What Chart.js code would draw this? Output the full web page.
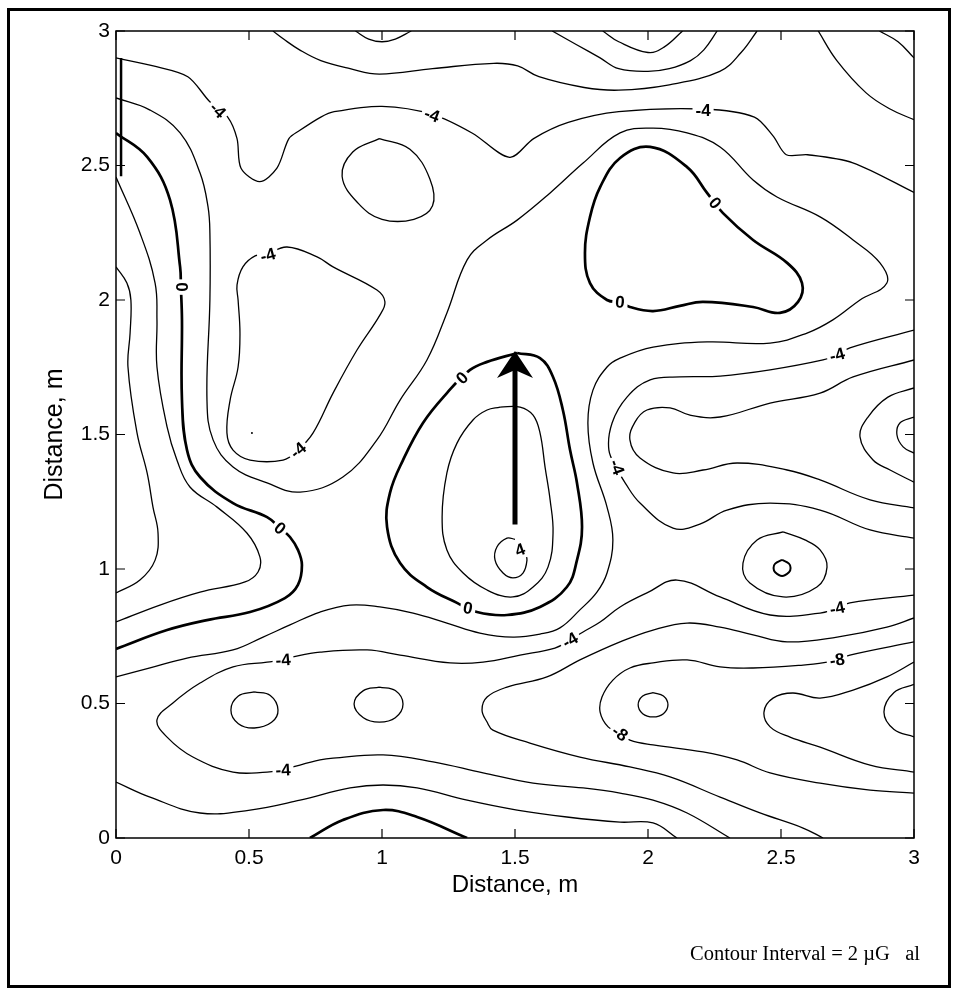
<!DOCTYPE html>
<html>
<head>
<meta charset="utf-8">
<script src="https://cdn.jsdelivr.net/npm/chart.js@4.4.1/dist/chart.umd.min.js"></script>
<style>
  html, body { margin: 0; padding: 0; background: #fff; }
  #wrap { position: relative; width: 956px; height: 993px; }
  #note {
    position: absolute; left: 690px; top: 941px;
    font: 20.5px 'Liberation Serif', 'Times New Roman', serif;
    white-space: pre; color: #000; line-height: 24px;
  }
</style>
</head>
<body>
<div id="wrap">
  <canvas id="contourChart" width="956" height="993"></canvas>
  <div id="note">Contour Interval = 2 µG   al</div>
</div>
<script>
// tick values (both axes)
const tickValues = [0, 0.5, 1, 1.5, 2, 2.5, 3];

// contour lines, [x, y] in metres
const topArcA = [[0.59,3.0],[0.63,2.97],[0.69,2.93],[0.77,2.89],[0.88,2.86],[0.99,2.84],[1.19,2.86],[1.42,2.88],[1.51,2.87],[1.59,2.83],[1.76,2.79],[1.89,2.78],[2.08,2.80],[2.27,2.85],[2.35,2.92],[2.41,3.0]];
const topArcB = [[0.90,3.0],[0.95,2.97],[1.0,2.96],[1.05,2.97],[1.11,3.0]];
const topArcC = [[1.83,3.0],[1.89,2.96],[2.0,2.92],[2.06,2.94],[2.13,3.0]];
const topArcD = [[1.64,3.0],[1.73,2.95],[1.82,2.90],[1.89,2.86],[2.0,2.85],[2.08,2.86],[2.16,2.89],[2.21,2.93],[2.26,3.0]];
const topRight1 = [[2.64,3.0],[2.71,2.89],[2.82,2.77],[2.91,2.71],[3.0,2.67]];
const topRight2 = [[2.87,3.0],[2.94,2.96],[3.0,2.90]];

const minus4Top = [[0,2.90],[0.14,2.87],[0.27,2.83],[0.35,2.74],[0.42,2.68],[0.455,2.60],[0.47,2.49],[0.54,2.44],[0.605,2.49],[0.65,2.60],[0.69,2.63],[0.77,2.68],[0.82,2.70],[1.00,2.72],[1.19,2.69],[1.34,2.62],[1.48,2.53],[1.57,2.60],[1.70,2.66],[1.89,2.70],[2.21,2.71],[2.40,2.68],[2.47,2.61],[2.52,2.54],[2.60,2.54],[2.77,2.51],[3.0,2.40]];
const loopNearOne = [[0.99,2.60],[1.105,2.56],[1.18,2.45],[1.19,2.35],[1.12,2.30],[1.00,2.30],[0.91,2.36],[0.85,2.46],[0.89,2.55],[0.99,2.60]];

const minus2Long = [[0,2.751],[0.128,2.706],[0.241,2.621],[0.316,2.472],[0.346,2.346],[0.353,2.249],[0.353,2.0],[0.342,1.628],[0.365,1.48],[0.44,1.379],[0.568,1.32],[0.692,1.286],[0.853,1.342],[0.981,1.48],[1.068,1.628],[1.169,1.777],[1.244,1.952],[1.32,2.149],[1.395,2.223],[1.508,2.297],[1.632,2.398],[1.756,2.509],[1.895,2.621],[2.019,2.639],[2.147,2.621],[2.271,2.569],[2.395,2.446],[2.485,2.383],[2.647,2.309],[2.771,2.223],[2.872,2.138],[2.898,2.063],[2.797,2.0],[2.695,1.926],[2.598,1.877],[2.459,1.84],[2.222,1.844],[2.019,1.825],[1.895,1.784],[1.846,1.751],[1.793,1.665],[1.774,1.543],[1.793,1.394],[1.846,1.23],[1.868,1.108],[1.846,0.985],[1.808,0.914],[1.744,0.848],[1.669,0.781],[1.594,0.758],[1.492,0.747],[1.368,0.762],[1.244,0.799],[1.117,0.836],[0.992,0.859],[0.88,0.866],[0.767,0.84],[0.654,0.792],[0.553,0.747],[0.44,0.699],[0.267,0.669],[0.128,0.632],[0,0.599]];

const zeroLeft = [[0,2.621],[0.117,2.532],[0.203,2.372],[0.241,2.123],[0.244,2.048],[0.248,1.926],[0.248,1.628],[0.267,1.442],[0.316,1.342],[0.44,1.245],[0.568,1.193],[0.617,1.152],[0.654,1.119],[0.684,1.071],[0.699,1.015],[0.684,0.941],[0.635,0.892],[0.504,0.84],[0.342,0.81],[0.192,0.773],[0,0.703]];
const plus4Left = [[0,2.123],[0.041,2.063],[0.056,2.0],[0.053,1.877],[0.045,1.751],[0.079,1.506],[0.117,1.357],[0.139,1.23],[0.158,1.134],[0.147,1.033],[0.09,0.959],[0,0.911]];
const plus2Left = [[0,2.457],[0.09,2.249],[0.147,2.063],[0.154,1.926],[0.154,1.751],[0.192,1.528],[0.229,1.405],[0.278,1.305],[0.38,1.23],[0.492,1.134],[0.541,1.045],[0.534,0.989],[0.485,0.952],[0.316,0.914],[0.165,0.866],[0,0.803]];
const minus4Loop = [[0.57,2.17],[0.643,2.197],[0.756,2.16],[0.816,2.123],[0.981,2.037],[1.011,1.993],[0.992,1.944],[0.906,1.814],[0.816,1.654],[0.741,1.506],[0.684,1.442],[0.628,1.405],[0.504,1.405],[0.44,1.442],[0.417,1.506],[0.429,1.628],[0.459,1.751],[0.466,1.877],[0.459,2.0],[0.455,2.056],[0.477,2.123],[0.523,2.164],[0.57,2.17]];

const zeroCentre = [[1.508,1.803],[1.594,1.784],[1.643,1.714],[1.68,1.591],[1.707,1.442],[1.733,1.32],[1.752,1.156],[1.733,1.033],[1.695,0.933],[1.594,0.859],[1.47,0.829],[1.357,0.84],[1.282,0.874],[1.169,0.933],[1.068,1.022],[1.019,1.156],[1.03,1.283],[1.079,1.405],[1.154,1.543],[1.244,1.654],[1.331,1.74],[1.395,1.77],[1.508,1.803]];
const plus2Centre = [[1.444,1.602],[1.519,1.602],[1.568,1.572],[1.594,1.506],[1.613,1.379],[1.632,1.257],[1.643,1.134],[1.624,1.007],[1.568,0.933],[1.492,0.896],[1.395,0.922],[1.305,0.985],[1.244,1.071],[1.226,1.193],[1.244,1.357],[1.282,1.468],[1.342,1.554],[1.395,1.591],[1.444,1.602]];
const plus4Centre = [[1.5,1.11],[1.47,1.115],[1.432,1.082],[1.425,1.033],[1.455,0.985],[1.492,0.967],[1.53,0.985],[1.545,1.033],[1.538,1.06]];

const zeroUpperRight = [[1.895,1.993],[1.932,1.974],[2.019,1.959],[2.12,1.978],[2.207,1.993],[2.395,1.974],[2.496,1.952],[2.564,1.993],[2.579,2.063],[2.523,2.138],[2.395,2.223],[2.282,2.323],[2.222,2.398],[2.147,2.494],[2.008,2.569],[1.895,2.528],[1.82,2.42],[1.782,2.309],[1.763,2.175],[1.782,2.063],[1.846,2.0],[1.895,1.993]];
const minus4Right = [[3.0,1.888],[2.759,1.822],[2.711,1.796],[2.658,1.777],[2.459,1.74],[2.271,1.717],[2.12,1.714],[2.008,1.703],[1.921,1.639],[1.865,1.543],[1.853,1.442],[1.887,1.368],[1.914,1.32],[1.97,1.245],[2.094,1.152],[2.195,1.167],[2.297,1.219],[2.459,1.245],[2.647,1.219],[2.835,1.145],[3.0,1.115]];
const minus6Right = [[3.0,1.777],[2.771,1.714],[2.647,1.654],[2.459,1.617],[2.271,1.565],[2.158,1.572],[2.083,1.599],[1.996,1.591],[1.951,1.546],[1.932,1.48],[1.97,1.413],[2.094,1.357],[2.207,1.368],[2.335,1.394],[2.523,1.368],[2.647,1.331],[2.835,1.257],[3.0,1.227]];
const edgeLoop15 = [[3.0,1.673],[2.902,1.639],[2.827,1.565],[2.797,1.491],[2.846,1.405],[2.91,1.368],[3.0,1.323]];
const edgeSmall15 = [[3.0,1.565],[2.947,1.543],[2.936,1.498],[2.959,1.454],[3.0,1.431]];
const ring25 = [[2.508,1.138],[2.59,1.108],[2.647,1.071],[2.673,1.007],[2.635,0.933],[2.508,0.896],[2.383,0.948],[2.357,1.022],[2.41,1.108],[2.508,1.138]];
const dot25 = [[2.504,1.034],[2.53,1.02],[2.536,1.004],[2.53,0.988],[2.504,0.974],[2.478,0.988],[2.472,1.004],[2.478,1.02],[2.504,1.034]];

const minus4Long = [[3.0,0.903],[2.759,0.874],[2.711,0.855],[2.647,0.836],[2.459,0.829],[2.271,0.896],[2.109,0.959],[1.996,0.911],[1.895,0.859],[1.82,0.803],[1.756,0.766],[1.707,0.736],[1.65,0.706],[1.519,0.68],[1.38,0.654],[1.256,0.651],[1.068,0.68],[0.944,0.699],[0.767,0.691],[0.665,0.673],[0.628,0.662],[0.568,0.654],[0.44,0.636],[0.316,0.576],[0.214,0.502],[0.154,0.439],[0.192,0.375],[0.289,0.301],[0.44,0.245],[0.568,0.245],[0.628,0.253],[0.665,0.264],[0.767,0.29],[0.816,0.297],[1.004,0.309],[1.192,0.283],[1.38,0.242],[1.568,0.204],[1.756,0.186],[1.895,0.167],[2.019,0.141],[2.147,0.093],[2.308,0]];
const ring05 = [[0.52,0.543],[0.58,0.53],[0.609,0.476],[0.585,0.43],[0.52,0.409],[0.46,0.425],[0.432,0.476],[0.46,0.528],[0.52,0.543]];
const ring10 = [[0.99,0.561],[1.05,0.548],[1.079,0.498],[1.05,0.447],[0.99,0.431],[0.93,0.447],[0.895,0.498],[0.93,0.548],[0.99,0.561]];
const ring20 = [[2.019,0.54],[2.058,0.528],[2.075,0.495],[2.058,0.462],[2.019,0.45],[1.98,0.462],[1.963,0.495],[1.98,0.528],[2.019,0.54]];

const minus8 = [[3.0,0.729],[2.759,0.68],[2.711,0.662],[2.673,0.654],[2.583,0.643],[2.395,0.632],[2.271,0.636],[2.147,0.662],[2.019,0.651],[1.932,0.632],[1.868,0.587],[1.827,0.524],[1.82,0.468],[1.85,0.413],[1.895,0.39],[1.932,0.364],[2.019,0.346],[2.207,0.32],[2.335,0.29],[2.459,0.242],[2.647,0.204],[2.835,0.178],[3.0,0.167]];
const minus6 = [[3.0,0.818],[2.898,0.784],[2.711,0.747],[2.523,0.729],[2.395,0.755],[2.271,0.784],[2.147,0.799],[2.019,0.773],[1.895,0.729],[1.744,0.662],[1.62,0.599],[1.47,0.561],[1.395,0.524],[1.376,0.476],[1.395,0.431],[1.417,0.401],[1.556,0.353],[1.744,0.301],[1.932,0.264],[2.083,0.227],[2.271,0.152],[2.421,0.093],[2.583,0.037],[2.658,0]];
const minus10 = [[3.0,0.654],[2.898,0.599],[2.771,0.55],[2.647,0.52],[2.545,0.539],[2.47,0.52],[2.436,0.468],[2.459,0.413],[2.534,0.375],[2.647,0.338],[2.835,0.271],[3.0,0.245]];
const edgeSmall05 = [[3.0,0.571],[2.925,0.541],[2.887,0.468],[2.925,0.403],[3.0,0.376]];
const minus2Bottom = [[0,0.208],[0.128,0.152],[0.316,0.093],[0.504,0.104],[0.692,0.141],[0.88,0.186],[1.004,0.197],[1.132,0.186],[1.32,0.141],[1.508,0.104],[1.695,0.078],[1.895,0.059],[2.019,0.056],[2.109,0]];
const zeroBottom = [[0.729,0],[0.853,0.067],[1.004,0.104],[1.132,0.078],[1.32,0]];

const edgeStroke = [[0.019,2.90],[0.019,2.46]];
const strayDot = [[0.511,1.506]];

// arrow (x, tail y, tip y)
const arrowX = 1.5, arrowTailY = 1.165, arrowTipY = 1.81;

// contour labels
const labelText = ['-4','-4','-4','0','-4','-4','0','0','0','-4','0','0','-4','-4','-4','-4','-4','-8','-8','4'];
const labelX = [0.383,1.188,2.207,0.248,0.571,0.684,0.617,1.301,1.323,1.883,1.895,2.252,2.711,0.628,0.628,1.707,2.711,2.711,1.895,1.519];
const labelY = [2.706,2.688,2.706,2.048,2.167,1.442,1.152,1.71,0.855,1.379,1.993,2.361,1.796,0.662,0.253,0.736,0.855,0.662,0.39,1.071];
const labelAngle = [45,20,0,90,-15,-40,40,-45,10,70,5,50,-15,-5,-3,-30,-12,-10,35,-20];

const FONT = "'Liberation Sans', Arial, sans-serif";

function contour(points, width, tension) {
  return {
    data: points.map(p => ({ x: p[0], y: p[1] })),
    showLine: true,
    borderColor: '#000',
    borderWidth: width,
    pointRadius: 0,
    tension: tension === undefined ? 0.4 : tension,
    fill: false
  };
}

const thin = 1.3, thick = 2.7;
const datasets = [
  contour(topArcA, thin), contour(topArcB, thin), contour(topArcC, thin), contour(topArcD, thin),
  contour(topRight1, thin), contour(topRight2, thin),
  contour(minus4Top, thin, 0.3), contour(loopNearOne, thin),
  contour(minus2Long, thin), contour(zeroLeft, thick), contour(plus4Left, thin), contour(plus2Left, thin),
  contour(minus4Loop, thin),
  contour(zeroCentre, thick), contour(plus2Centre, thin), contour(plus4Centre, thin),
  contour(zeroUpperRight, thick), contour(minus4Right, thin), contour(minus6Right, thin),
  contour(edgeLoop15, thin), contour(edgeSmall15, thin), contour(ring25, thin), contour(dot25, 2),
  contour(minus4Long, thin), contour(ring05, thin), contour(ring10, thin), contour(ring20, thin),
  contour(minus8, thin), contour(minus6, thin), contour(minus10, thin), contour(edgeSmall05, thin),
  contour(minus2Bottom, thin), contour(zeroBottom, thick),
  contour(edgeStroke, 2.5, 0),
  { data: strayDot.map(p => ({ x: p[0], y: p[1] })), pointRadius: 1, backgroundColor: '#000', borderWidth: 0 },
  contour([[arrowX, arrowTailY], [arrowX, arrowTipY - 0.07]], 5, 0)
];

// labels, arrow head, frame with inward ticks, outer border
const decorations = {
  id: 'decorations',
  afterDatasetsDraw(chart) {
    const ctx = chart.ctx, xs = chart.scales.x, ys = chart.scales.y;
    const area = chart.chartArea;

    ctx.save();
    ctx.font = 'bold 17px ' + FONT;
    ctx.textAlign = 'center';
    ctx.textBaseline = 'middle';
    labelText.forEach((t, i) => {
      const px = xs.getPixelForValue(labelX[i]);
      const py = ys.getPixelForValue(labelY[i]);
      ctx.save();
      ctx.translate(px, py);
      ctx.rotate(labelAngle[i] * Math.PI / 180);
      const w = ctx.measureText(t).width + 6;
      ctx.fillStyle = '#fff';
      ctx.fillRect(-w / 2, -9, w, 18);
      ctx.fillStyle = '#000';
      ctx.fillText(t, 0, 1);
      ctx.restore();
    });

    // arrow head
    const ax = xs.getPixelForValue(arrowX), ay = ys.getPixelForValue(arrowTipY);
    ctx.fillStyle = '#000';
    ctx.beginPath();
    ctx.moveTo(ax, ay);
    ctx.lineTo(ax + 18, ay + 27);
    ctx.lineTo(ax, ay + 19);
    ctx.lineTo(ax - 18, ay + 27);
    ctx.closePath();
    ctx.fill();

    // plot frame
    ctx.strokeStyle = '#000';
    ctx.lineWidth = 1.5;
    ctx.strokeRect(area.left, area.top, area.right - area.left, area.bottom - area.top);
    ctx.lineWidth = 1.2;
    ctx.beginPath();
    tickValues.forEach(v => {
      const px = xs.getPixelForValue(v), py = ys.getPixelForValue(v);
      ctx.moveTo(px, area.bottom); ctx.lineTo(px, area.bottom - 9);
      ctx.moveTo(px, area.top); ctx.lineTo(px, area.top + 9);
      ctx.moveTo(area.left, py); ctx.lineTo(area.left + 9, py);
      ctx.moveTo(area.right, py); ctx.lineTo(area.right - 9, py);
    });
    ctx.stroke();

    // outer border
    ctx.lineWidth = 3;
    ctx.strokeRect(8.5, 9.5, 941, 977);
    ctx.restore();
  }
};

const axisBase = {
  type: 'linear',
  min: 0,
  max: 3,
  grid: { display: false, drawTicks: false },
  border: { display: false },
  ticks: {
    stepSize: 0.5, color: '#000', font: { family: FONT, size: 21 }, autoSkip: false, maxRotation: 0,
    callback: v => String(v)
  }
};

new Chart(document.getElementById('contourChart'), {
  type: 'scatter',
  data: { datasets: datasets },
  options: {
    responsive: false,
    animation: false,
    events: [],
    layout: { padding: { top: 31, right: 42, left: 0, bottom: 0 } },
    plugins: { legend: { display: false }, tooltip: { enabled: false } },
    scales: {
      x: Object.assign({}, axisBase, {
        ticks: Object.assign({}, axisBase.ticks, { padding: 8 }),
        title: { display: true, text: 'Distance, m', color: '#000', font: { family: FONT, size: 24 }, padding: { top: 0, bottom: 93 } },
        afterFit(scale) { scale.height = 155; }
      }),
      y: Object.assign({}, axisBase, {
        ticks: Object.assign({}, axisBase.ticks, { padding: 6 }),
        title: { display: true, text: 'Distance, m', color: '#000', font: { family: FONT, size: 25 }, padding: { top: 40, bottom: 0 } },
        afterFit(scale) { scale.width = 116; }
      })
    }
  },
  plugins: [decorations]
});
</script>
</body>
</html>
